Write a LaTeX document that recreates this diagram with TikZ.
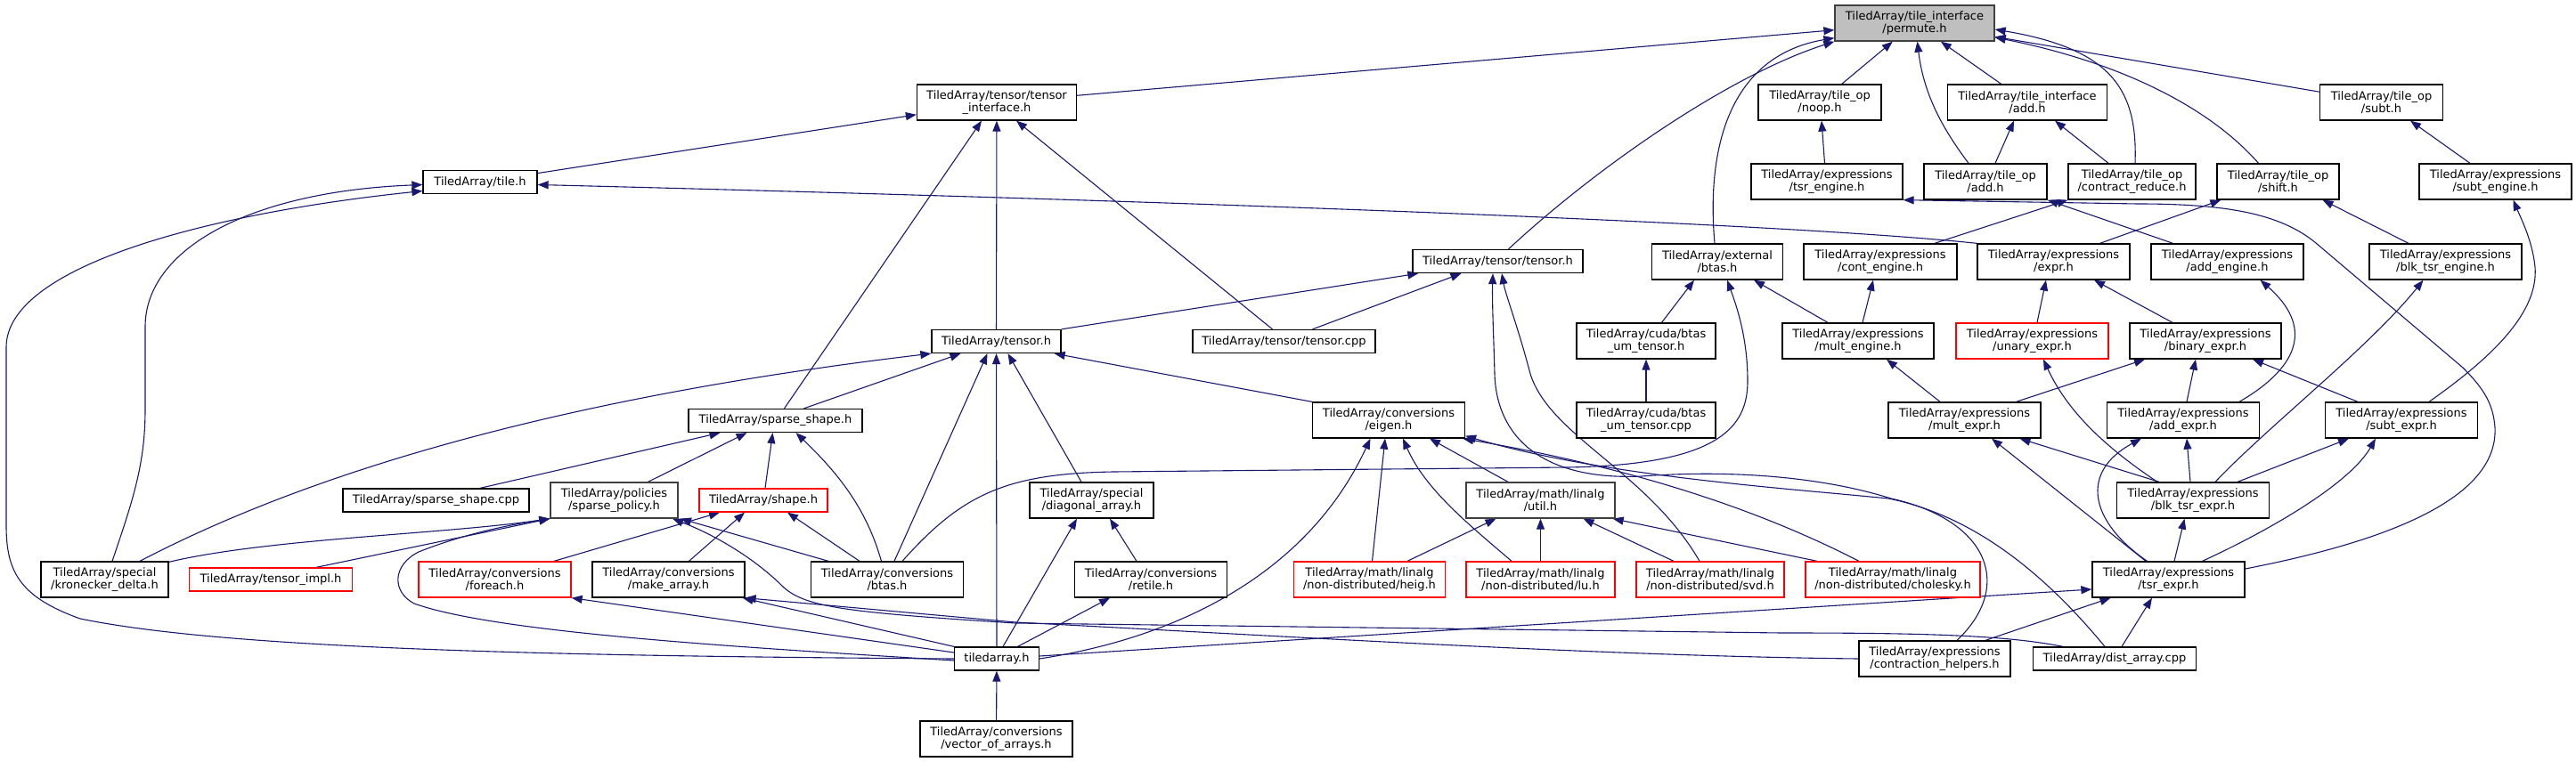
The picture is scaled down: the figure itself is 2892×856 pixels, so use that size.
\documentclass[tikz,border=0pt]{standalone}
\usepackage{fontspec}
\setmainfont{DejaVu Sans}
\usetikzlibrary{arrows.meta}
\pgfdeclarelayer{bg}
\pgfsetlayers{bg,main}
\definecolor{edgecol}{HTML}{191970}
\definecolor{rootfill}{HTML}{BFBFBF}
\definecolor{darkb}{HTML}{404040}
\begin{document}
\begin{tikzpicture}[x=1pt,y=-1pt,
  nbox/.style={draw=black, line width=1.3pt, fill=white, inner sep=0pt, align=center,
    font=\fontsize{13pt}{14.5pt}\selectfont},
  redbox/.style={nbox, draw=red},
  graybox/.style={nbox, draw=darkb},
  rootbox/.style={nbox, draw=darkb, fill=rootfill},
  edg/.style={draw=edgecol, line width=1.1pt, -{Triangle[length=12pt,width=9pt]}}]
\useasboundingbox (0,0) rectangle (2892,856);
% ---------- nodes ----------
\node[rootbox,minimum width=179pt,minimum height=40pt] (permute) at (2149.5,26) {TiledArray/tile\_interface\\/permute.h};
\node[nbox,minimum width=179pt,minimum height=40pt] (tif) at (1119,115) {TiledArray/tensor/tensor\\\_interface.h};
\node[nbox,minimum width=138pt,minimum height=40pt] (noop) at (2043,115) {TiledArray/tile\_op\\/noop.h};
\node[nbox,minimum width=179pt,minimum height=40pt] (tiadd) at (2276,115) {TiledArray/tile\_interface\\/add.h};
\node[nbox,minimum width=138pt,minimum height=40pt] (subt) at (2673.5,115) {TiledArray/tile\_op\\/subt.h};
\node[nbox,minimum width=128pt,minimum height=26pt] (tile) at (539,204.5) {TiledArray/tile.h};
\node[nbox,minimum width=170pt,minimum height=40pt] (tsreng) at (2051,204) {TiledArray/expressions\\/tsr\_engine.h};
\node[nbox,minimum width=138pt,minimum height=40pt] (opadd) at (2229,204) {TiledArray/tile\_op\\/add.h};
\node[nbox,minimum width=143pt,minimum height=40pt] (cred) at (2393.5,204) {TiledArray/tile\_op\\/contract\_reduce.h};
\node[nbox,minimum width=137pt,minimum height=40pt] (shift) at (2557.5,204) {TiledArray/tile\_op\\/shift.h};
\node[nbox,minimum width=171pt,minimum height=40pt] (subteng) at (2801.5,204) {TiledArray/expressions\\/subt\_engine.h};
\node[nbox,minimum width=191pt,minimum height=26pt] (tt) at (1681.5,293.5) {TiledArray/tensor/tensor.h};
\node[nbox,minimum width=147pt,minimum height=40pt] (extbtas) at (1928,294) {TiledArray/external\\/btas.h};
\node[nbox,minimum width=172pt,minimum height=40pt] (conteng) at (2111,294) {TiledArray/expressions\\/cont\_engine.h};
\node[nbox,minimum width=171pt,minimum height=40pt] (expr) at (2305.5,294) {TiledArray/expressions\\/expr.h};
\node[nbox,minimum width=171pt,minimum height=40pt] (addeng) at (2500.5,294) {TiledArray/expressions\\/add\_engine.h};
\node[nbox,minimum width=171pt,minimum height=40pt] (blkeng) at (2745.5,294) {TiledArray/expressions\\/blk\_tsr\_engine.h};
\node[nbox,minimum width=145pt,minimum height=26pt] (tensor) at (1118.5,383.5) {TiledArray/tensor.h};
\node[nbox,minimum width=205pt,minimum height=26pt] (tcpp) at (1441.5,383.5) {TiledArray/tensor/tensor.cpp};
\node[nbox,minimum width=156pt,minimum height=40pt] (btasum) at (1848,383) {TiledArray/cuda/btas\\\_um\_tensor.h};
\node[nbox,minimum width=170pt,minimum height=40pt] (multeng) at (2086,383) {TiledArray/expressions\\/mult\_engine.h};
\node[redbox,minimum width=171pt,minimum height=40pt] (unary) at (2281.5,383) {TiledArray/expressions\\/unary\_expr.h};
\node[nbox,minimum width=170pt,minimum height=40pt] (binary) at (2476,383) {TiledArray/expressions\\/binary\_expr.h};
\node[nbox,minimum width=195pt,minimum height=26pt] (sshape) at (870.5,472.5) {TiledArray/sparse\_shape.h};
\node[nbox,minimum width=171pt,minimum height=40pt] (eigen) at (1559,472) {TiledArray/conversions\\/eigen.h};
\node[nbox,minimum width=156pt,minimum height=40pt] (btasumcpp) at (1848,472) {TiledArray/cuda/btas\\\_um\_tensor.cpp};
\node[nbox,minimum width=171pt,minimum height=40pt] (multexpr) at (2205.5,472) {TiledArray/expressions\\/mult\_expr.h};
\node[nbox,minimum width=171pt,minimum height=40pt] (addexpr) at (2451,472) {TiledArray/expressions\\/add\_expr.h};
\node[nbox,minimum width=171pt,minimum height=40pt] (subtexpr) at (2696,472) {TiledArray/expressions\\/subt\_expr.h};
\node[nbox,minimum width=209pt,minimum height=26pt] (sscpp) at (489.5,562) {TiledArray/sparse\_shape.cpp};
\node[graybox,minimum width=143pt,minimum height=40pt] (spol) at (689.5,562) {TiledArray/policies\\/sparse\_policy.h};
\node[redbox,minimum width=144pt,minimum height=26pt] (shape) at (857,562) {TiledArray/shape.h};
\node[nbox,minimum width=139pt,minimum height=40pt] (diag) at (1225.5,562) {TiledArray/special\\/diagonal\_array.h};
\node[graybox,minimum width=167pt,minimum height=40pt] (util) at (1729.5,562) {TiledArray/math/linalg\\/util.h};
\node[nbox,minimum width=171pt,minimum height=40pt] (blkexpr) at (2462,562) {TiledArray/expressions\\/blk\_tsr\_expr.h};
\node[nbox,minimum width=143pt,minimum height=40pt] (kron) at (117.5,651) {TiledArray/special\\/kronecker\_delta.h};
\node[redbox,minimum width=183pt,minimum height=26pt] (timpl) at (304,651) {TiledArray/tensor\_impl.h};
\node[redbox,minimum width=171pt,minimum height=40pt] (foreach) at (555.5,651) {TiledArray/conversions\\/foreach.h};
\node[nbox,minimum width=171pt,minimum height=40pt] (mkarr) at (750.5,651) {TiledArray/conversions\\/make\_array.h};
\node[nbox,minimum width=171pt,minimum height=40pt] (cbtas) at (996,651) {TiledArray/conversions\\/btas.h};
\node[nbox,minimum width=171pt,minimum height=40pt] (retile) at (1292,651) {TiledArray/conversions\\/retile.h};
\node[redbox,minimum width=170pt,minimum height=40pt] (heig) at (1537.5,651) {TiledArray/math/linalg\\/non-distributed/heig.h};
\node[redbox,minimum width=167pt,minimum height=40pt] (lu) at (1729.5,651) {TiledArray/math/linalg\\/non-distributed/lu.h};
\node[redbox,minimum width=166pt,minimum height=40pt] (svd) at (1920,651) {TiledArray/math/linalg\\/non-distributed/svd.h};
\node[redbox,minimum width=196pt,minimum height=40pt] (chol) at (2125,651) {TiledArray/math/linalg\\/non-distributed/cholesky.h};
\node[nbox,minimum width=171pt,minimum height=40pt] (tsrexpr) at (2434.5,651) {TiledArray/expressions\\/tsr\_expr.h};
\node[nbox,minimum width=95pt,minimum height=26pt] (ta) at (1119,740) {tiledarray.h};
\node[nbox,minimum width=170pt,minimum height=40pt] (ch) at (2172,740) {TiledArray/expressions\\/contraction\_helpers.h};
\node[nbox,minimum width=183pt,minimum height=26pt] (dist) at (2374,740) {TiledArray/dist\_array.cpp};
\node[nbox,minimum width=171pt,minimum height=40pt] (voa) at (1118.5,830) {TiledArray/conversions\\/vector\_of\_arrays.h};
% ---------- edges ----------
\begin{pgfonlayer}{bg}
\fill[white] (0,0) rectangle (2892,856);
% into permute.h
\draw[edg] (tif) -- (permute);
\draw[edg] ([xshift=12pt]tt.north) .. controls (1790,190) and (1940,85) .. (permute.south west);
\draw[edg] ([xshift=-3pt]extbtas.north) .. controls (1915,160) and (1945,62) .. ([yshift=4pt]permute.south west);
\draw[edg] (noop) -- (permute);
\draw[edg] ([xshift=-19pt]opadd.north) .. controls (2185,150) and (2160,110) .. ([xshift=3pt]permute.south);
\draw[edg] (tiadd) -- (permute);
\draw[edg] ([xshift=3.5pt]cred.north) .. controls (2400,100) and (2370,55) .. ([yshift=-7pt]permute.east);
\draw[edg] ([xshift=-22pt]shift.north) .. controls (2480,120) and (2380,70) .. ([yshift=-16pt]permute.east);
\draw[edg] (subt) -- (permute);
% into tensor_interface.h
\draw[edg] (tile) -- (tif);
\draw[edg] ([xshift=10pt]sshape.north) -- ([xshift=-17pt]tif.south);
\draw[edg] (tensor) -- (tif);
\draw[edg] ([xshift=-13pt]tcpp.north) -- ([xshift=22pt]tif.south);
% into tile.h
\draw[edg] ([xshift=8.5pt]kron.north) .. controls (150,560) and (163,520) .. (163,460) -- (163,367) .. controls (163,280) and (280,215) .. ([yshift=-3pt]tile.west);
\draw[edg] (ta.west) .. controls (600,737) and (250,728) .. (90,695) .. controls (20,670) and (7,640) .. (7,590) -- (7,390) .. controls (7,300) and (230,240) .. ([yshift=-10pt]tile.west);
\draw[edg] (expr.north west) .. controls (2000,250) and (1300,225) .. ([yshift=-3pt]tile.east);
% into tensor.h
\draw[edg] ([xshift=39.5pt]kron.north) .. controls (330,540) and (600,450) .. (tensor.south west);
\draw[edg] ([xshift=32pt]sshape.north) -- ([xshift=-40pt]tensor.south);
\draw[edg] ([xshift=8pt]cbtas.north) -- ([xshift=-10pt]tensor.south);
\draw[edg] (ta) -- (tensor);
\draw[edg] ([xshift=-11.5pt]diag.north) -- ([xshift=13pt]tensor.south);
\draw[edg] (eigen.north west) -- ([xshift=-8pt]tensor.south east);
% into tensor/tensor.h
\draw[edg] (tensor.north east) -- ([xshift=7pt]tt.south west);
\draw[edg] ([xshift=32pt]tcpp.north) -- ([xshift=-41pt]tt.south);
\draw[edg] ([xshift=-12pt]svd.north) .. controls (1850,530) and (1740,490) .. (1718,420) .. controls (1705,370) and (1690,330) .. ([xshift=4.5pt]tt.south);
\draw[edg] ([xshift=25pt]ch.north) .. controls (2260,660) and (2235,585) .. (2123,560) .. controls (2050,537) and (1950,527) .. (1843,535) .. controls (1730,540) and (1680,490) .. (1678,420) .. controls (1677,380) and (1675,340) .. ([xshift=-5.5pt]tt.south);
% into eigen.h
\draw[edg] ([xshift=-11pt]dist.north) .. controls (2300,650) and (2220,580) .. (2120,560) .. controls (2000,548) and (1800,535) .. ([yshift=3pt]eigen.south east);
\draw[edg] (ta.east) .. controls (1330,715) and (1470,640) .. ([xshift=-20.5pt]eigen.south);
\draw[edg] ([xshift=3pt]heig.north) -- ([xshift=-4pt]eigen.south);
\draw[edg] ([xshift=-32.5pt]lu.north) .. controls (1650,590) and (1600,550) .. ([xshift=16pt]eigen.south);
\draw[edg] ([xshift=-36.5pt]util.north) -- ([xshift=46pt]eigen.south);
\draw[edg] ([xshift=-38pt]chol.north) .. controls (1950,560) and (1800,520) .. ([xshift=-3pt]eigen.south east);
% into util.h
\draw[edg] ([xshift=42.5pt]heig.north) -- ([xshift=-50pt]util.south);
\draw[edg] (lu) -- (util);
\draw[edg] ([xshift=-41pt]svd.north) -- ([xshift=48pt]util.south);
\draw[edg] ([xshift=-85pt]chol.north) -- ([xshift=-3pt]util.south east);
% into external/btas.h
\draw[edg] ([xshift=17pt]cbtas.north) .. controls (1080,555) and (1130,532) .. (1250,530) -- (1760,525) .. controls (1930,522) and (1962,480) .. (1962,428) .. controls (1962,380) and (1950,345) .. ([xshift=11pt]extbtas.south);
\draw[edg] ([xshift=17.5pt]btasum.north) -- ([xshift=-26pt]extbtas.south);
\draw[edg] ([xshift=-34pt]multeng.north) -- ([xshift=41pt]extbtas.south);
\draw[edg] (btasumcpp) -- (btasum);
% expressions (engines)
\draw[edg] ([xshift=5pt]multeng.north) -- ([xshift=-8pt]conteng.south);
\draw[edg] ([xshift=-27.5pt]multexpr.north) -- ([xshift=32pt]multeng.south);
\draw[edg] ([xshift=-2.5pt]tsreng.north) -- ([xshift=2pt]noop.south);
\draw[edg] ([yshift=12pt]tsrexpr.east) .. controls (2680,608) and (2805,560) .. (2801,480) .. controls (2799,455) and (2790,438) .. (2765,413) -- (2600,273) .. controls (2560,240) and (2500,229) .. (2400,229) -- (tsreng.south east);
\draw[edg] ([xshift=11pt]opadd.north) -- ([xshift=-15pt]tiadd.south);
\draw[edg] ([xshift=-26.5pt]cred.north) -- ([xshift=31pt]tiadd.south);
\draw[edg] ([xshift=61pt]conteng.north) -- (cred.south west);
\draw[edg] ([xshift=-61pt]addeng.north) -- (opadd.south east);
\draw[edg] ([xshift=52pt]expr.north) -- ([xshift=5pt]shift.south west);
\draw[edg] ([xshift=-41.5pt]blkeng.north) -- ([xshift=50pt]shift.south);
\draw[edg] ([xshift=31pt]subtexpr.north) .. controls (2800,400) and (2850,350) .. (2846,300) .. controls (2843,270) and (2830,245) .. ([xshift=20pt]subteng.south);
\draw[edg] ([xshift=-28.5pt]subteng.north) -- ([xshift=32.5pt]subt.south);
% expressions (exprs)
\draw[edg] ([xshift=5.5pt]unary.north) -- ([xshift=-8.5pt]expr.south);
\draw[edg] ([xshift=-37pt]binary.north) -- ([xshift=45.5pt]expr.south);
\draw[edg] ([xshift=63pt]addexpr.north) .. controls (2585,410) and (2595,365) .. ([xshift=37pt]addeng.south);
\draw[edg] ([xshift=25pt]blkexpr.north) .. controls (2545,480) and (2660,390) .. ([xshift=-25pt]blkeng.south);
\draw[edg] ([xshift=-40pt]blkexpr.north) .. controls (2360,500) and (2320,460) .. ([xshift=12.5pt]unary.south);
\draw[edg] ([xshift=58pt]multexpr.north) -- ([xshift=-68pt]binary.south);
\draw[edg] ([xshift=4pt]addexpr.north) -- ([xshift=-11pt]binary.south);
\draw[edg] ([xshift=-49pt]subtexpr.north) -- ([xshift=53pt]binary.south);
\draw[edg] ([xshift=-25.5pt]tsrexpr.north) -- ([xshift=30.5pt]multexpr.south);
\draw[edg] ([xshift=-38pt]blkexpr.north) -- ([xshift=62pt]multexpr.south);
\draw[edg] ([xshift=-24pt]tsrexpr.north) .. controls (2345,585) and (2335,530) .. ([xshift=-47pt]addexpr.south);
\draw[edg] ([xshift=-3pt]blkexpr.north) -- ([xshift=4pt]addexpr.south);
\draw[edg] ([xshift=50pt]blkexpr.north) -- ([xshift=-59pt]subtexpr.south);
\draw[edg] ([xshift=38pt]tsrexpr.north) .. controls (2560,590) and (2640,540) .. ([xshift=-29pt]subtexpr.south);
\draw[edg] ([xshift=6.5pt]tsrexpr.north) -- ([xshift=-9.5pt]blkexpr.south);
\draw[edg] ([yshift=3pt]ta.east) -- ([yshift=-11pt]tsrexpr.west);
\draw[edg] ([xshift=57pt]ch.north) -- ([xshift=-65pt]tsrexpr.south);
\draw[edg] ([xshift=8pt]dist.north) -- ([xshift=-18.5pt]tsrexpr.south);
% long lower connectors
\draw[edg] ([xshift=-58pt]dist.north) .. controls (2250,713) and (2150,711) .. (2000,711) -- (1140,700) .. controls (950,688) and (905,682) .. (880,660) .. controls (845,625) and (800,600) .. ([xshift=65.5pt]spol.south);
\draw[edg] (ch.west) .. controls (1800,737) and (1450,715) .. (1140,699) -- (mkarr.south east);
\draw[edg] ([yshift=-2pt]ta.west) .. controls (850,728) and (560,712) .. (465,678) .. controls (440,665) and (440,635) .. (470,620) .. controls (520,600) and (570,590) .. (spol.south west);
% into sparse_policy.h
\draw[edg] ([yshift=-1pt]kron.north east) .. controls (300,605) and (500,600) .. (spol.south west);
\draw[edg] ([xshift=51pt]timpl.north) -- (spol.south west);
\draw[edg] ([xshift=-66pt]cbtas.north) -- ([xshift=74.5pt]spol.south);
% into sparse_shape.h
\draw[edg] ([xshift=38pt]spol.north) -- ([xshift=-32pt]sshape.south);
\draw[edg] ([xshift=49.5pt]sscpp.north) -- ([xshift=-62pt]sshape.south);
\draw[edg] ([xshift=2pt]shape.north) -- ([xshift=-3pt]sshape.south);
\draw[edg] ([xshift=-6.5pt]cbtas.north) .. controls (975,580) and (950,540) .. ([xshift=23pt]sshape.south);
% into shape.h
\draw[edg] ([xshift=66.5pt]foreach.north) -- ([xshift=-49pt]shape.south);
\draw[edg] ([xshift=23pt]mkarr.north) -- ([xshift=-21pt]shape.south);
\draw[edg] ([xshift=-31pt]cbtas.north) -- ([xshift=27pt]shape.south);
% from tiledarray.h
\draw[edg] ([yshift=7pt]ta.west) -- (foreach.south east);
\draw[edg] (ta.north west) -- ([xshift=-3pt]mkarr.south east);
\draw[edg] ([xshift=7pt]ta.north) -- ([xshift=-16.5pt]diag.south);
\draw[edg] ([xshift=23.5pt]ta.north) -- ([xshift=-46pt]retile.south);
\draw[edg] ([xshift=-16pt]retile.north) -- ([xshift=20.5pt]diag.south);
\draw[edg] (voa) -- (ta);
\end{pgfonlayer}
\end{tikzpicture}
\end{document}
